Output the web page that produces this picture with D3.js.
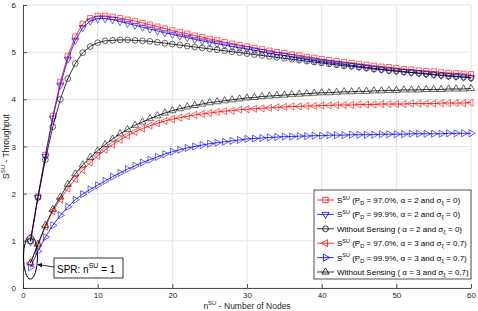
<!DOCTYPE html>
<html>
<head>
<meta charset="utf-8">
<script src="https://cdn.jsdelivr.net/npm/d3@7"></script>
<style>
  body { margin: 0; background: #fff; }
  svg { display: block; font-family: "Liberation Sans", Arial, sans-serif; }
</style>
</head>
<body>
<div id="chart"></div>
<script>
/* chart data */
const nodes = d3.range(1, 61);
const xTicks = [0, 10, 20, 30, 40, 50, 60];
const yTicks = [0, 1, 2, 3, 4, 5, 6];

const red_a2 = [1.00, 1.94, 2.82, 3.65, 4.37, 4.92, 5.33, 5.60, 5.72, 5.77,
  5.77, 5.75, 5.72, 5.69, 5.66, 5.62, 5.58, 5.54, 5.50, 5.46,
  5.42, 5.39, 5.35, 5.32, 5.28, 5.25, 5.21, 5.18, 5.15, 5.12,
  5.09, 5.06, 5.03, 5.00, 4.98, 4.95, 4.93, 4.90, 4.88, 4.85,
  4.83, 4.81, 4.79, 4.77, 4.75, 4.73, 4.71, 4.69, 4.68, 4.66,
  4.64, 4.63, 4.61, 4.60, 4.59, 4.57, 4.56, 4.55, 4.54, 4.53];

const blue_a2 = [0.98, 1.92, 2.79, 3.60, 4.30, 4.85, 5.25, 5.52, 5.66, 5.71,
  5.71, 5.69, 5.65, 5.61, 5.57, 5.53, 5.49, 5.45, 5.41, 5.38,
  5.34, 5.31, 5.27, 5.24, 5.21, 5.18, 5.15, 5.12, 5.09, 5.07,
  5.04, 5.01, 4.98, 4.95, 4.93, 4.90, 4.87, 4.85, 4.82, 4.80,
  4.78, 4.76, 4.74, 4.72, 4.70, 4.68, 4.66, 4.64, 4.62, 4.60,
  4.59, 4.57, 4.56, 4.54, 4.53, 4.51, 4.50, 4.49, 4.47, 4.46];

const noSense_a2 = [1.00, 1.92, 2.72, 3.42, 4.00, 4.44, 4.76, 4.99, 5.12, 5.20,
  5.24, 5.25, 5.26, 5.26, 5.25, 5.24, 5.23, 5.21, 5.19, 5.17,
  5.15, 5.13, 5.11, 5.09, 5.07, 5.05, 5.03, 5.01, 4.99, 4.97,
  4.95, 4.93, 4.91, 4.89, 4.87, 4.85, 4.83, 4.81, 4.79, 4.77,
  4.75, 4.73, 4.71, 4.70, 4.68, 4.66, 4.64, 4.63, 4.61, 4.60,
  4.58, 4.57, 4.55, 4.54, 4.52, 4.51, 4.49, 4.48, 4.47, 4.45];

const red_a3 = [0.53, 0.91, 1.30, 1.63, 1.88, 2.11, 2.31, 2.50, 2.66, 2.80,
  2.93, 3.04, 3.14, 3.23, 3.31, 3.38, 3.44, 3.49, 3.54, 3.58,
  3.61, 3.64, 3.67, 3.69, 3.71, 3.73, 3.75, 3.76, 3.78, 3.79,
  3.80, 3.81, 3.82, 3.83, 3.84, 3.85, 3.85, 3.86, 3.86, 3.87,
  3.87, 3.88, 3.88, 3.88, 3.89, 3.89, 3.89, 3.90, 3.90, 3.90,
  3.90, 3.91, 3.91, 3.91, 3.91, 3.92, 3.92, 3.92, 3.92, 3.93];

const blue_a3 = [0.44, 0.78, 1.08, 1.33, 1.54, 1.72, 1.87, 1.99, 2.09, 2.18,
  2.27, 2.36, 2.44, 2.52, 2.59, 2.66, 2.72, 2.78, 2.84, 2.89,
  2.93, 2.97, 3.00, 3.03, 3.06, 3.08, 3.10, 3.12, 3.14, 3.16,
  3.17, 3.18, 3.19, 3.20, 3.21, 3.21, 3.22, 3.22, 3.23, 3.23,
  3.24, 3.24, 3.24, 3.25, 3.25, 3.25, 3.25, 3.26, 3.26, 3.26,
  3.26, 3.27, 3.27, 3.27, 3.27, 3.27, 3.28, 3.28, 3.28, 3.28];

const noSense_a3 = [0.53, 0.93, 1.33, 1.67, 1.93, 2.20, 2.42, 2.61, 2.77, 2.91,
  3.04, 3.16, 3.27, 3.36, 3.45, 3.52, 3.59, 3.65, 3.71, 3.76,
  3.80, 3.84, 3.87, 3.90, 3.93, 3.95, 3.97, 3.99, 4.01, 4.03,
  4.04, 4.06, 4.07, 4.08, 4.09, 4.10, 4.11, 4.12, 4.13, 4.14,
  4.14, 4.15, 4.16, 4.16, 4.17, 4.17, 4.18, 4.18, 4.19, 4.19,
  4.20, 4.20, 4.20, 4.21, 4.21, 4.21, 4.22, 4.22, 4.22, 4.23];

/* legend rows */
const legendLabels = [
  { sens: true,  pd: "97.0%", mid: ", \u03B1 = 2 and  \u03C3", sig: " = 0)" },
  { sens: true,  pd: "99.9%", mid: ", \u03B1 = 2 and  \u03C3", sig: " = 0)" },
  { sens: false, pre: "Without Sensing ( \u03B1 = 2 and  \u03C3", sig: " = 0)" },
  { sens: true,  pd: "97.0%", mid: ",  \u03B1 = 3 and  \u03C3", sig: " = 0.7)" },
  { sens: true,  pd: "99.9%", mid: ",  \u03B1 = 3 and  \u03C3", sig: " = 0.7)" },
  { sens: false, pre: "Without Sensing  ( \u03B1 = 3 and  \u03C3", sig: " = 0.7)" }
];

const seriesValues = [red_a2, blue_a2, noSense_a2, red_a3, blue_a3, noSense_a3];
const seriesColors = ["#ff0000", "#0000ff", "#000000", "#ff0000", "#0000ff", "#000000"];
const seriesMarkers = ["square", "tri-down", "circle", "tri-left", "tri-right", "tri-up"];

const width = 478, height = 311;
const margin = { left: 23, right: 7, top: 5, bottom: 23 };

const svg = d3.select("#chart").append("svg")
  .attr("width", width)
  .attr("height", height);

const x = d3.scaleLinear().domain([0, 60]).range([margin.left, width - margin.right]);
const y = d3.scaleLinear().domain([0, 6]).range([height - margin.bottom, margin.top]);

/* grid */
svg.append("g").attr("class", "grid")
  .selectAll("line.gx").data(xTicks).enter().append("line")
  .attr("x1", d => x(d)).attr("x2", d => x(d))
  .attr("y1", y(0)).attr("y2", y(6))
  .attr("stroke", "#e3e3e3").attr("stroke-width", 1);
svg.select(".grid")
  .selectAll("line.gy").data(yTicks).enter().append("line")
  .attr("x1", x(0)).attr("x2", x(60))
  .attr("y1", d => y(d)).attr("y2", d => y(d))
  .attr("stroke", "#e3e3e3").attr("stroke-width", 1);

/* axes, ticks pointing inward like matlab */
const xAxis = d3.axisBottom(x).tickValues(xTicks).tickFormat(d3.format("d"))
  .tickSizeInner(-4).tickSizeOuter(0).tickPadding(4);
const yAxis = d3.axisLeft(y).tickValues(yTicks).tickFormat(d3.format("d"))
  .tickSizeInner(-4).tickSizeOuter(0).tickPadding(7);

svg.append("g")
  .attr("transform", "translate(0," + y(0) + ")")
  .call(xAxis)
  .call(g => g.selectAll("path, line").attr("stroke", "#262626").attr("stroke-width", 0.8))
  .call(g => g.selectAll("text").attr("fill", "#262626").style("font-size", "8px"));

svg.append("g")
  .attr("transform", "translate(" + x(0) + ",0)")
  .call(yAxis)
  .call(g => g.selectAll("path, line").attr("stroke", "#262626").attr("stroke-width", 0.8))
  .call(g => g.selectAll("text").attr("fill", "#262626").style("font-size", "8px"));

/* axis labels */
const xLab = svg.append("text")
  .attr("x", x(30))
  .attr("y", 308.5)
  .attr("text-anchor", "middle")
  .attr("fill", "#262626")
  .style("font-size", "8.5px");
xLab.append("tspan").text("n");
xLab.append("tspan").attr("dy", -3.5).style("font-size", "6px").text("SU");
xLab.append("tspan").attr("dy", 3.5).text(" - Number of Nodes");

const yLab = svg.append("text")
  .attr("transform", "translate(9," + y(3) + ") rotate(-90)")
  .attr("text-anchor", "middle")
  .attr("fill", "#262626")
  .style("font-size", "8.5px");
yLab.append("tspan").text("S");
yLab.append("tspan").attr("dy", -4).style("font-size", "6px").text("SU");
yLab.append("tspan").attr("dy", 4).text(" - Throughput");

/* marker helper */
function markerPath(kind, size) {
  if (kind === "square") return d3.symbol(d3.symbolSquare, size * 1.1)();
  if (kind === "circle") return d3.symbol(d3.symbolCircle, size)();
  return d3.symbol(d3.symbolTriangle, size * 0.85)();
}
function markerRotate(kind) {
  if (kind === "tri-down") return 180;
  if (kind === "tri-left") return -90;
  if (kind === "tri-right") return 90;
  return 0;
}

const line = d3.line()
  .x((d, i) => x(nodes[i]))
  .y(d => y(d));

/* draw series */
seriesValues.forEach((vals, s) => {
  const g = svg.append("g").attr("class", "series");
  g.append("path")
    .datum(vals)
    .attr("d", line)
    .attr("fill", "none")
    .attr("stroke", seriesColors[s])
    .attr("stroke-width", 0.8);
  g.selectAll(".mk").data(vals).enter().append("path")
    .attr("class", "mk")
    .attr("d", markerPath(seriesMarkers[s], 26))
    .attr("transform", (d, i) => "translate(" + x(nodes[i]) + "," + y(d) + ") rotate(" + markerRotate(seriesMarkers[s]) + ")")
    .attr("fill", "none")
    .attr("stroke", seriesColors[s])
    .attr("stroke-opacity", 0.75)
    .attr("stroke-width", 0.8);
});

/* legend */
const legend = svg.append("g").attr("class", "legend");
const legX = 314, legY = 190, legW = 157, legH = 89, rowH = 14.4;
legend.append("rect")
  .attr("x", legX).attr("y", legY)
  .attr("width", legW).attr("height", legH)
  .attr("fill", "#fff")
  .attr("stroke", "#262626")
  .attr("stroke-width", 0.8);

legendLabels.forEach((lab, i) => {
  const cy = legY + 10 + i * rowH;
  legend.append("line")
    .attr("x1", legX + 3).attr("x2", legX + 20)
    .attr("y1", cy).attr("y2", cy)
    .attr("stroke", seriesColors[i]).attr("stroke-width", 0.8);
  legend.append("path")
    .attr("d", markerPath(seriesMarkers[i], 26))
    .attr("transform", "translate(" + (legX + 11.5) + "," + cy + ") rotate(" + markerRotate(seriesMarkers[i]) + ")")
    .attr("fill", "none")
    .attr("stroke", seriesColors[i])
    .attr("stroke-width", 0.8);

  const t = legend.append("text")
    .attr("x", legX + 23)
    .attr("y", cy + 3)
    .attr("fill", "#000")
    .style("font-size", "8px");
  if (lab.sens) {
    t.append("tspan").text("S");
    t.append("tspan").attr("dy", -3.5).style("font-size", "5.5px").text("SU");
    t.append("tspan").attr("dy", 3.5).text(" (P");
    t.append("tspan").attr("dy", 2).style("font-size", "5.5px").text("D");
    t.append("tspan").attr("dy", -2).text(" = " + lab.pd + lab.mid);
  } else {
    t.append("tspan").text(lab.pre);
  }
  t.append("tspan").attr("dy", 2).style("font-size", "5.5px").text("\u03BE");
  t.append("tspan").attr("dy", -2).text(lab.sig);
});

/* SPR annotation at n = 1 */
const annY = (red_a2[0] + blue_a3[0]) / 2;
svg.append("ellipse")
  .attr("cx", x(1)).attr("cy", y(annY) + 3)
  .attr("rx", 7).attr("ry", 22)
  .attr("fill", "none")
  .attr("stroke", "#000")
  .attr("stroke-width", 1);

svg.append("defs").append("marker")
  .attr("id", "arrow")
  .attr("viewBox", "0 0 10 10")
  .attr("refX", 9).attr("refY", 5)
  .attr("markerWidth", 6).attr("markerHeight", 6)
  .attr("orient", "auto-start-reverse")
  .append("path")
  .attr("d", "M0,0 L10,5 L0,10 z")
  .attr("fill", "#000");

svg.append("line")
  .attr("x1", 54).attr("y1", 267)
  .attr("x2", x(1) + 7.5).attr("y2", 264.5)
  .attr("stroke", "#000")
  .attr("stroke-width", 0.8)
  .attr("marker-end", "url(#arrow)");

svg.append("rect")
  .attr("x", 54).attr("y", 258)
  .attr("width", 69).attr("height", 20)
  .attr("fill", "#fff")
  .attr("stroke", "#000")
  .attr("stroke-width", 0.8);

const spr = svg.append("text")
  .attr("x", 57).attr("y", 272.5)
  .attr("fill", "#000")
  .style("font-size", "10px");
spr.append("tspan").text("SPR: n");
spr.append("tspan").attr("dy", -5).style("font-size", "7px").text("SU");
spr.append("tspan").attr("dy", 5).text(" = 1");
</script>
</body>
</html>
